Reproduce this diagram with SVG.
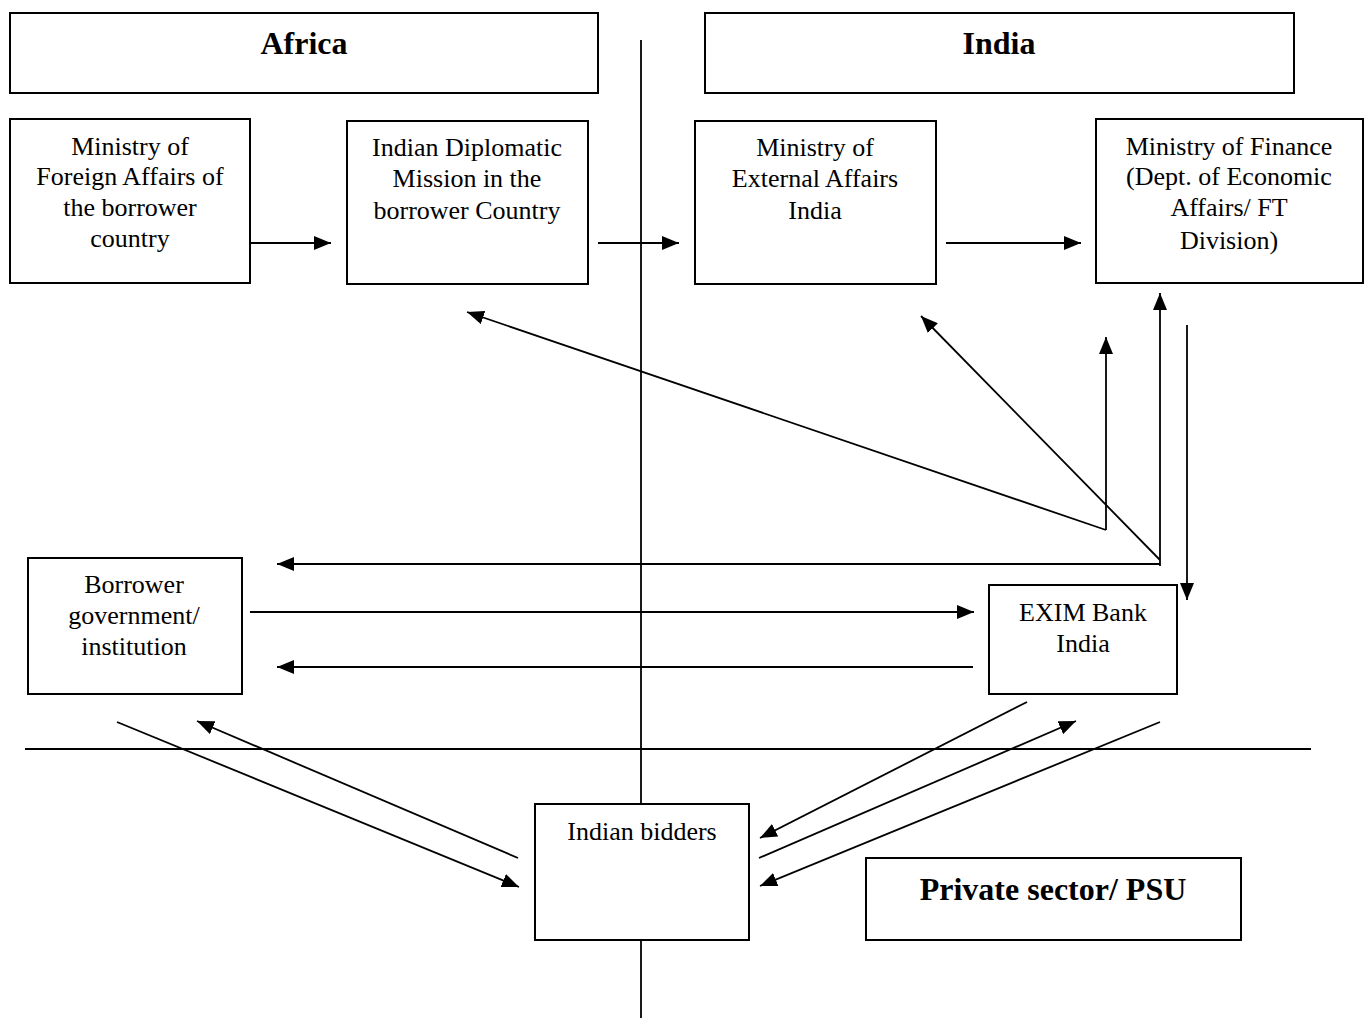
<svg xmlns="http://www.w3.org/2000/svg" width="1366" height="1018" viewBox="0 0 1366 1018">
<style>
  .box { fill: #fff; stroke: #000; stroke-width: 2; }
  .t { font-family: "Liberation Serif", "Times New Roman", serif; font-size: 26px; text-anchor: middle; fill: #000; }
  .h { font-family: "Liberation Serif", "Times New Roman", serif; font-size: 32px; font-weight: bold; text-anchor: middle; fill: #000; }
  .ln { stroke: #000; stroke-width: 1.8; fill: none; }
  .ar { stroke: #000; stroke-width: 1.8; fill: none; marker-end: url(#ah); }
</style>
<defs>
  <marker id="ah" markerUnits="userSpaceOnUse" markerWidth="18" markerHeight="14" refX="17" refY="7" orient="auto">
    <path d="M0,0 L17,7 L0,14 z" fill="#000"/>
  </marker>
</defs>
<rect width="1366" height="1018" fill="#fff"/>

<g id="dividers">
  <line class="ln" x1="641" y1="40" x2="641" y2="1018"/>
  <line class="ln" x1="25" y1="749" x2="1311" y2="749"/>
</g>

<g id="connectors">
  <line class="ar" x1="250" y1="243" x2="331" y2="243"/>
  <line class="ar" x1="598" y1="243" x2="679" y2="243"/>
  <line class="ar" x1="946" y1="243" x2="1081" y2="243"/>
  <line class="ar" x1="1106" y1="530" x2="467" y2="312"/>
  <line class="ar" x1="1106" y1="530" x2="1106" y2="337"/>
  <line class="ar" x1="1160" y1="560" x2="921" y2="316"/>
  <line class="ar" x1="1160" y1="566" x2="1160" y2="293"/>
  <line class="ar" x1="1160" y1="564" x2="277" y2="564"/>
  <line class="ar" x1="1187" y1="325" x2="1187" y2="600"/>
  <line class="ar" x1="250" y1="612" x2="974" y2="612"/>
  <line class="ar" x1="973" y1="667" x2="277" y2="667"/>
  <line class="ar" x1="117" y1="722" x2="519" y2="887"/>
  <line class="ar" x1="518" y1="858" x2="197" y2="721"/>
  <line class="ar" x1="1027" y1="702" x2="760" y2="838"/>
  <line class="ar" x1="759" y1="858" x2="1076" y2="721"/>
  <line class="ar" x1="1160" y1="722" x2="760" y2="886"/>
</g>

<g id="africa">
  <rect class="box" x="10" y="13" width="588" height="80"/>
  <text class="h" x="304" y="54">Africa</text>
</g>
<g id="india">
  <rect class="box" x="705" y="13" width="589" height="80"/>
  <text class="h" x="999" y="54">India</text>
</g>

<g id="mfa-borrower">
  <rect class="box" x="10" y="119" width="240" height="164"/>
  <text class="t" x="130" y="155">Ministry of</text>
  <text class="t" x="130" y="185">Foreign Affairs of</text>
  <text class="t" x="130" y="216">the borrower</text>
  <text class="t" x="130" y="247">country</text>
</g>

<g id="indian-mission">
  <rect class="box" x="347" y="121" width="241" height="163"/>
  <text class="t" x="467" y="156">Indian Diplomatic</text>
  <text class="t" x="467" y="187">Mission in the</text>
  <text class="t" x="467" y="219">borrower Country</text>
</g>

<g id="mea-india">
  <rect class="box" x="695" y="121" width="241" height="163"/>
  <text class="t" x="815" y="156">Ministry of</text>
  <text class="t" x="815" y="187">External Affairs</text>
  <text class="t" x="815" y="219">India</text>
</g>

<g id="mof">
  <rect class="box" x="1096" y="119" width="267" height="164"/>
  <text class="t" x="1229" y="155">Ministry of Finance</text>
  <text class="t" x="1229" y="185">(Dept. of Economic</text>
  <text class="t" x="1229" y="216">Affairs/ FT</text>
  <text class="t" x="1229" y="249">Division)</text>
</g>

<g id="borrower">
  <rect class="box" x="28" y="558" width="214" height="136"/>
  <text class="t" x="134" y="593">Borrower</text>
  <text class="t" x="134" y="624">government/</text>
  <text class="t" x="134" y="655">institution</text>
</g>

<g id="exim">
  <rect class="box" x="989" y="585" width="188" height="109"/>
  <text class="t" x="1083" y="621">EXIM Bank</text>
  <text class="t" x="1083" y="652">India</text>
</g>

<g id="indian-bidders">
  <rect class="box" x="535" y="804" width="214" height="136"/>
  <text class="t" x="642" y="840">Indian bidders</text>
</g>

<g id="private-sector">
  <rect class="box" x="866" y="858" width="375" height="82"/>
  <text class="h" x="1053" y="900">Private sector/ PSU</text>
</g>
</svg>
